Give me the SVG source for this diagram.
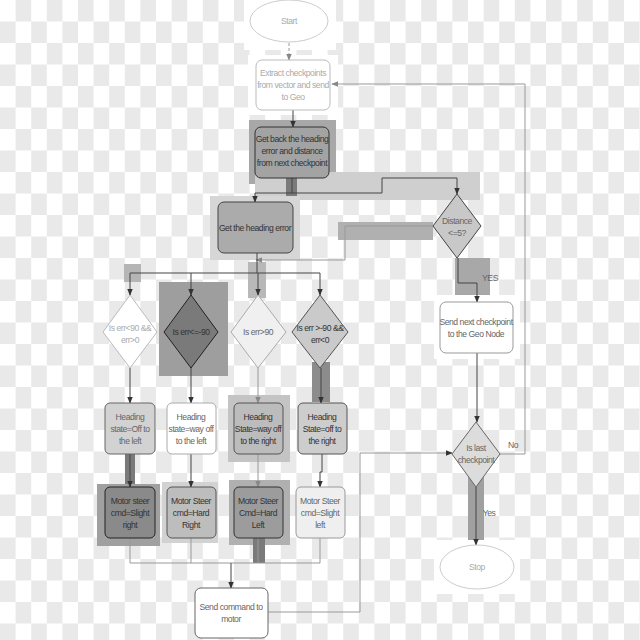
<svg xmlns="http://www.w3.org/2000/svg" width="640" height="640" viewBox="0 0 640 640">
<defs>
<pattern id="chk" patternUnits="userSpaceOnUse" width="31.2" height="43">
<rect width="31.2" height="43" fill="#ffffff"/>
<rect x="15.6" y="0" width="15.6" height="21.5" fill="#e9e9e9"/>
<rect x="0" y="21.5" width="15.6" height="21.5" fill="#e9e9e9"/>
</pattern>
<marker id="ah" viewBox="0 0 10 10" refX="9" refY="5" markerWidth="7" markerHeight="7" orient="auto" markerUnits="userSpaceOnUse">
<path d="M0,1 L10,5 L0,9 Z" fill="#333"/>
</marker>
<marker id="ahl" viewBox="0 0 10 10" refX="9" refY="5" markerWidth="7" markerHeight="7" orient="auto" markerUnits="userSpaceOnUse">
<path d="M0,1 L10,5 L0,9 Z" fill="#888"/>
</marker>
</defs>
<style>
.t{font-family:"Liberation Sans",Arial,sans-serif;font-size:8.6px;letter-spacing:-0.45px;text-anchor:middle}
.dk{fill:#333}
.md{fill:#666}
.lt{fill:#aaa}
.c{fill:none;stroke:#444;stroke-width:1}
.cl{fill:none;stroke:#999;stroke-width:1}
</style>
<rect width="640" height="640" fill="url(#chk)"/>
<g id="halos">
<rect x="244" y="0" width="92" height="50" fill="#fff"/>
<rect x="248" y="55" width="90" height="60" fill="#fff"/>
<rect x="249" y="120" width="87" height="64" fill="#a8a8a8"/>
<rect x="255" y="172" width="225" height="28" fill="#cfcfcf"/>
<rect x="286" y="175" width="11" height="23" fill="#7a7a7a"/>
<rect x="210" y="196" width="90" height="64" fill="#d6d6d6"/>
<rect x="338" y="222" width="95" height="18" fill="#b0b0b0"/>
<rect x="455" y="258" width="35" height="42" fill="#a8a8a8"/>
<rect x="124" y="264" width="17" height="18" fill="#b5b5b5"/>
<rect x="248" y="262" width="18" height="36" fill="#b8b8b8"/>
<rect x="159" y="282" width="69" height="94" fill="#9e9e9e"/>
<rect x="312" y="362" width="18" height="40" fill="#8c8c8c"/>
<rect x="228" y="395" width="62" height="67" fill="#c4c4c4"/>
<rect x="125" y="454" width="10" height="33" fill="#7a7a7a"/>
<rect x="97" y="484" width="63" height="62" fill="#a0a0a0"/>
<rect x="162" y="482" width="56" height="61" fill="#d2d2d2"/>
<rect x="229" y="480" width="61" height="65" fill="#b0b0b0"/>
<rect x="253" y="538" width="12" height="25" fill="#7a7a7a"/>
<rect x="468" y="470" width="16" height="72" fill="#a0a0a0"/>
<rect x="434" y="295" width="86" height="64" fill="#fff"/>
<rect x="434" y="540" width="86" height="54" fill="#fff"/>
</g>
<g id="connectors">
<path class="cl" d="M289,43 V60" stroke-dasharray="3,2" marker-end="url(#ahl)"/>
<path class="cl" d="M525,454 V84 H332" marker-end="url(#ahl)"/>
<path class="c" d="M293,110 V127" marker-end="url(#ah)"/>
<path class="c" d="M292,178 V193 H255 V202" marker-end="url(#ah)"/>
<path class="c" d="M292,193 H382 V178 H457 V194" marker-end="url(#ah)"/>
<path class="cl" d="M433,226 H345 V260 H256" marker-end="url(#ahl)"/>
<path class="c" d="M257,253 V273"/>
<path class="c" d="M130,273 H320"/>
<path class="c" d="M130,273 V295" marker-end="url(#ah)"/>
<path class="c" d="M191,273 V295" marker-end="url(#ah)"/>
<path class="c" d="M258,273 V295" marker-end="url(#ah)"/>
<path class="c" d="M320,273 V295" marker-end="url(#ah)"/>
<path class="c" d="M130,368 V403" marker-end="url(#ah)"/>
<path class="c" d="M191,368 V403" marker-end="url(#ah)"/>
<path class="cl" d="M258,368 V403" marker-end="url(#ahl)"/>
<path class="c" d="M321,368 V403" marker-end="url(#ah)"/>
<path class="c" d="M130,454 V487" marker-end="url(#ah)"/>
<path class="c" d="M191,454 V487" marker-end="url(#ah)"/>
<path class="cl" d="M258,454 V487" marker-end="url(#ahl)"/>
<path class="c" d="M322,454 V472 H320 V487" marker-end="url(#ah)"/>
<path class="cl" d="M130,538 V563 H320 V538"/>
<path class="cl" d="M191,538 V563"/>
<path class="cl" d="M258,538 V563"/>
<path class="c" d="M231,563 V588" marker-end="url(#ah)"/>
<path class="cl" d="M268,612 H360 V453 H452" marker-end="url(#ah)"/>
<path class="c" d="M458,258 V283 H477 V302" marker-end="url(#ah)"/>
<path class="c" d="M477,353 V422" marker-end="url(#ah)"/>
<path class="cl" d="M500,454 H525"/>
<path class="c" d="M476,487 V545" marker-end="url(#ah)"/>
<text class="t md" x="490" y="281">YES</text>
<text class="t md" x="513" y="448">No</text>
<text class="t md" x="489" y="516">Yes</text>
</g>
<g id="start">
<ellipse cx="289" cy="21" rx="39" ry="21" fill="#fff" stroke="#ccc"/>
<text class="t lt" x="289" y="24">Start</text>
</g>
<g id="extract">
<rect x="256" y="60" width="74" height="50" rx="6" fill="#fff" stroke="#bbb"/>
<text class="t lt" x="293" y="76">Extract checkpoints</text>
<text class="t lt" x="293" y="88">from vector and send</text>
<text class="t lt" x="293" y="100">to Geo</text>
</g>
<g id="getback">
<rect x="255" y="127" width="74" height="51" rx="6" fill="#a3a3a3" stroke="#333"/>
<text class="t dk" x="292" y="142">Get back the heading</text>
<text class="t dk" x="292" y="154">error and distance</text>
<text class="t dk" x="292" y="166">from next checkpoint</text>
</g>
<g id="getheading">
<rect x="218" y="202" width="75" height="51" rx="6" fill="#ababab" stroke="#444"/>
<text class="t dk" x="255" y="231">Get the heading error</text>
</g>
<g id="distance">
<path d="M457,194 L481,226 L457,258 L433,226 Z" fill="#c8c8c8" stroke="#444"/>
<text class="t md" x="457" y="224">Distance</text>
<text class="t md" x="457" y="236">&lt;=5?</text>
</g>
<g id="sendnext">
<rect x="440" y="302" width="73" height="51" rx="6" fill="#fff" stroke="#999"/>
<text class="t md" x="476" y="325">Send next checkpoint</text>
<text class="t md" x="476" y="337">to the Geo Node</text>
</g>
<g id="d1">
<path d="M130,295 L157,332 L130,368 L103,332 Z" fill="#fff" stroke="#bbb"/>
<text class="t lt" x="130" y="331">Is err&lt;90 &amp;&amp;</text>
<text class="t lt" x="130" y="343">err&gt;0</text>
</g>
<g id="d2">
<path d="M191,295 L218,332 L191,368 L164,332 Z" fill="#7a7a7a" stroke="#222"/>
<text class="t dk" x="191" y="335">Is err&lt;=-90</text>
</g>
<g id="d3">
<path d="M258,295 L286,332 L258,368 L231,332 Z" fill="#f0f0f0" stroke="#aaa"/>
<text class="t md" x="258" y="335">Is err&gt;90</text>
</g>
<g id="d4">
<path d="M320,295 L348,332 L320,368 L292,332 Z" fill="#cacaca" stroke="#555"/>
<text class="t dk" x="320" y="331">Is err &gt;-90 &amp;&amp;</text>
<text class="t dk" x="320" y="343">err&lt;0</text>
</g>
<g id="h1">
<rect x="105" y="403" width="50" height="51" rx="5" fill="#d2d2d2" stroke="#666"/>
<text class="t md" x="130" y="420">Heading</text>
<text class="t md" x="130" y="432">state=Off to</text>
<text class="t md" x="130" y="444">the left</text>
</g>
<g id="h2">
<rect x="167" y="403" width="49" height="51" rx="5" fill="#fff" stroke="#aaa"/>
<text class="t md" x="191" y="420">Heading</text>
<text class="t md" x="191" y="432">state=way off</text>
<text class="t md" x="191" y="444">to the left</text>
</g>
<g id="h3">
<rect x="234" y="403" width="49" height="51" rx="5" fill="#bcbcbc" stroke="#555"/>
<text class="t dk" x="258" y="420">Heading</text>
<text class="t dk" x="258" y="432">State=way off</text>
<text class="t dk" x="258" y="444">to the right</text>
</g>
<g id="h4">
<rect x="298" y="403" width="49" height="51" rx="5" fill="#cdcdcd" stroke="#555"/>
<text class="t dk" x="322" y="420">Heading</text>
<text class="t dk" x="322" y="432">State=off to</text>
<text class="t dk" x="322" y="444">the right</text>
</g>
<g id="m1">
<rect x="105" y="487" width="50" height="51" rx="5" fill="#8a8a8a" stroke="#222"/>
<text class="t dk" x="130" y="504">Motor steer</text>
<text class="t dk" x="130" y="516">cmd=Slight</text>
<text class="t dk" x="130" y="528">right</text>
</g>
<g id="m2">
<rect x="167" y="487" width="49" height="51" rx="5" fill="#bdbdbd" stroke="#555"/>
<text class="t dk" x="191" y="504">Motor Steer</text>
<text class="t dk" x="191" y="516">cmd=Hard</text>
<text class="t dk" x="191" y="528">Right</text>
</g>
<g id="m3">
<rect x="234" y="487" width="49" height="51" rx="5" fill="#9c9c9c" stroke="#333"/>
<text class="t dk" x="258" y="504">Motor Steer</text>
<text class="t dk" x="258" y="516">Cmd=Hard</text>
<text class="t dk" x="258" y="528">Left</text>
</g>
<g id="m4">
<rect x="296" y="487" width="49" height="51" rx="5" fill="#efefef" stroke="#999"/>
<text class="t md" x="320" y="504">Motor Steer</text>
<text class="t md" x="320" y="516">cmd=Slight</text>
<text class="t md" x="320" y="528">left</text>
</g>
<g id="sendcmd">
<rect x="195" y="588" width="73" height="50" rx="6" fill="#fff" stroke="#666"/>
<text class="t md" x="231" y="610">Send command to</text>
<text class="t md" x="231" y="622">motor</text>
</g>
<g id="islast">
<path d="M476,422 L500,454 L476,487 L452,454 Z" fill="#dcdcdc" stroke="#666"/>
<text class="t md" x="476" y="451">Is last</text>
<text class="t md" x="476" y="463">checkpoint</text>
</g>
<g id="stop">
<ellipse cx="477" cy="567" rx="37" ry="22" fill="#fff" stroke="#ccc"/>
<text class="t lt" x="477" y="570">Stop</text>
</g>
</svg>
